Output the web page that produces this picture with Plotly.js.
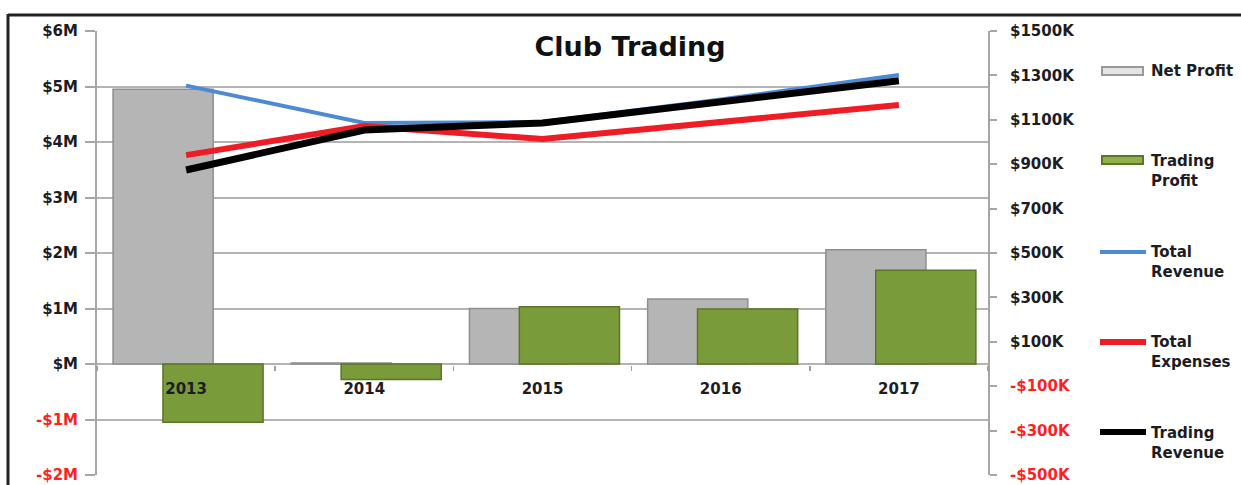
<!DOCTYPE html>
<html>
<head>
<meta charset="utf-8">
<script src="https://cdn.plot.ly/plotly-3.0.1.min.js"></script>
<style>
  html, body { margin: 0; padding: 0; background: #ffffff; }
  #chart { width: 1241px; height: 485px; }
</style>
</head>
<body>
<div id="chart"></div>
<script>
// ---- data ----
const categories = ['2013', '2014', '2015', '2016', '2017'];
const netProfit = [4.95, 0.02, 1.00, 1.17, 2.06];          // $M (left axis)
const tradingProfit = [-1.05, -0.28, 1.03, 0.99, 1.69];    // $M (left axis)
const totalRevenue = [1254, 1086, 1090, 1192, 1302];       // $K (right axis)
const totalExpenses = [941, 1072, 1013, 1091, 1167];       // $K (right axis)
const tradingRevenue = [874, 1054, 1086, 1181, 1276];      // $K (right axis)

const leftTickVals = [6, 5, 4, 3, 2, 1, 0, -1, -2];
const leftTickText = ['$6M', '$5M', '$4M', '$3M', '$2M', '$1M', '$M', '-$1M', '-$2M'];
const rightTickVals = [1500, 1300, 1100, 900, 700, 500, 300, 100, -100, -300, -500];
const rightTickText = ['$1500K', '$1300K', '$1100K', '$900K', '$700K', '$500K', '$300K', '$100K', '-$100K', '-$300K', '-$500K'];

const legendNames = ['Net Profit', 'Trading<br>Profit', 'Total<br>Revenue', 'Total<br>Expenses', 'Trading<br>Revenue'];

// ---- styling / layout helpers ----
const W = 1241, H = 485;
const M = { l: 97, r: 253, t: 31, b: 10 };
const PW = W - M.l - M.r, PH = H - M.t - M.b;
const px = x => (x - M.l) / PW;
const py = y => (H - M.b - y) / PH;

const redTxt = '#ff1f1f';
const labelColor = '#1c1c24';
const colorize = (vals, txt) => txt.map((t, i) => vals[i] < 0 ? '<span style="color:' + redTxt + '">' + t + '</span>' : t);

const tickFont = { family: 'DejaVu Sans', size: 15, color: labelColor, weight: 'bold' };
const gridGray = '#b4b4b4';

const traces = [
  {
    type: 'bar', name: 'Net Profit', x: categories, y: netProfit,
    offset: -0.41, width: 0.562,
    marker: { color: '#b5b5b5', line: { color: '#8f8f8f', width: 1.5 } },
    yaxis: 'y', showlegend: false
  },
  {
    type: 'bar', name: 'Trading Profit', x: categories, y: tradingProfit,
    offset: -0.13, width: 0.562,
    marker: { color: '#7a9b3a', line: { color: '#5a7628', width: 1.5 } },
    yaxis: 'y', showlegend: false
  },
  {
    type: 'scatter', mode: 'lines', name: 'Total Revenue', x: categories, y: totalRevenue,
    line: { color: '#4d8ad3', width: 4 }, yaxis: 'y2', showlegend: false
  },
  {
    type: 'scatter', mode: 'lines', name: 'Total Expenses', x: categories, y: totalExpenses,
    line: { color: '#ee1c25', width: 6 }, yaxis: 'y2', showlegend: false
  },
  {
    type: 'scatter', mode: 'lines', name: 'Trading Revenue', x: categories, y: tradingRevenue,
    line: { color: '#000000', width: 7 }, yaxis: 'y2', showlegend: false
  }
];

// custom legend (symbols + labels) on the right
const legendRows = [71, 171, 262, 352, 443];     // pixel centres of label blocks
const symbolRows = [71, 160, 252, 342, 432];     // pixel centres of symbols
const shapes = [
  // frame
  { type: 'line', xref: 'paper', yref: 'paper', x0: px(8), x1: px(1245), y0: py(15), y1: py(15), line: { color: '#222222', width: 3 } },
  { type: 'line', xref: 'paper', yref: 'paper', x0: px(8), x1: px(8), y0: py(14), y1: py(490), line: { color: '#222222', width: 3 } },
  // legend symbols
  { type: 'rect', xref: 'paper', yref: 'paper', x0: px(1102), x1: px(1143), y0: py(symbolRows[0] - 4), y1: py(symbolRows[0] + 4), fillcolor: '#e4e4e4', line: { color: '#9a9a9a', width: 2 } },
  { type: 'rect', xref: 'paper', yref: 'paper', x0: px(1102), x1: px(1143), y0: py(symbolRows[1] - 4), y1: py(symbolRows[1] + 4), fillcolor: '#8fb04c', line: { color: '#5a7628', width: 2 } },
  { type: 'line', xref: 'paper', yref: 'paper', x0: px(1100), x1: px(1146), y0: py(symbolRows[2]), y1: py(symbolRows[2]), line: { color: '#4d8ad3', width: 4 } },
  { type: 'line', xref: 'paper', yref: 'paper', x0: px(1100), x1: px(1146), y0: py(symbolRows[3]), y1: py(symbolRows[3]), line: { color: '#ee1c25', width: 6 } },
  { type: 'line', xref: 'paper', yref: 'paper', x0: px(1100), x1: px(1146), y0: py(symbolRows[4]), y1: py(symbolRows[4]), line: { color: '#000000', width: 6 } }
];

const annotations = legendNames.map((t, i) => ({
  xref: 'paper', yref: 'paper', x: px(1149), y: py(legendRows[i]),
  xanchor: 'left', yanchor: 'middle', align: 'left', showarrow: false,
  text: t, font: { family: 'DejaVu Sans', size: 15, color: labelColor, weight: 'bold' }
}));

const layout = {
  width: W, height: H,
  margin: M,
  paper_bgcolor: '#ffffff', plot_bgcolor: '#ffffff',
  barmode: 'overlay',
  title: {
    text: 'Club Trading',
    x: 630 / W, xref: 'container', xanchor: 'center',
    y: 1 - 47 / H, yref: 'container', yanchor: 'middle',
    font: { family: 'DejaVu Sans', size: 27, color: '#111111', weight: 'bold' }
  },
  xaxis: {
    type: 'category', range: [-0.5, 4.5],
    anchor: 'free', position: py(365),
    showgrid: false, showline: false, zeroline: false,
    ticks: 'outside', tickson: 'boundaries', ticklen: 5, tickwidth: 1.5, tickcolor: '#a0a0a0',
    ticklabelstandoff: 13,
    tickfont: tickFont, fixedrange: true
  },
  yaxis: {
    range: [-2, 6], tickvals: leftTickVals, ticktext: colorize(leftTickVals, leftTickText),
    showgrid: true, gridcolor: gridGray, gridwidth: 2,
    zeroline: true, zerolinecolor: gridGray, zerolinewidth: 2,
    showline: true, linecolor: '#a6a6a6', linewidth: 2,
    ticks: 'outside', ticklen: 10, tickwidth: 2, tickcolor: '#a6a6a6',
    ticklabelstandoff: 4,
    tickfont: tickFont, fixedrange: true
  },
  yaxis2: {
    overlaying: 'y', side: 'right',
    range: [-500, 1500], tickvals: rightTickVals, ticktext: colorize(rightTickVals, rightTickText),
    showgrid: false, zeroline: false,
    showline: true, linecolor: '#a6a6a6', linewidth: 2,
    ticks: 'outside', ticklen: 7, tickwidth: 2, tickcolor: '#a6a6a6',
    ticklabelstandoff: 10,
    tickfont: tickFont, fixedrange: true
  },
  shapes: shapes,
  annotations: annotations,
  showlegend: false
};

Plotly.newPlot('chart', traces, layout, { staticPlot: true, displayModeBar: false });
</script>
</body>
</html>
